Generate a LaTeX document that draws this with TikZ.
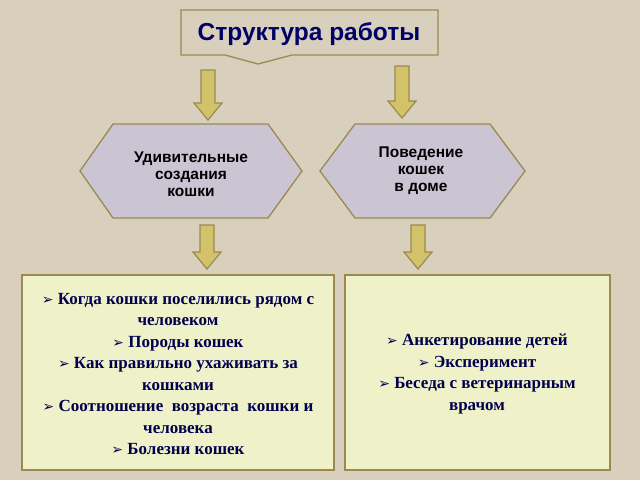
\documentclass[tikz,border=0pt]{standalone}
\usepackage{fontspec}
\setmainfont{Liberation Serif}
\setsansfont{Liberation Sans}
\newfontfamily\djvfont{DejaVu Sans}
\definecolor{bg}{HTML}{D8CFBD}
\definecolor{olv}{HTML}{9A8A50}
\definecolor{arf}{HTML}{D2C36A}
\definecolor{hexf}{HTML}{CBC4D3}
\definecolor{boxf}{HTML}{EFF2C9}
\begin{document}
\begin{tikzpicture}[x=1pt,y=-1pt,
  edge/.style={draw=olv, line width=1.3pt},
  barrow/.style={draw=olv, fill=arf, line width=1.2pt},
  hexa/.style={edge, fill=hexf},
  box/.style={edge, fill=boxf},
  btxt/.style={font=\bfseries\fontsize{17}{21.5}\selectfont, text=blue!30!black, align=center},
  htxt/.style={font=\sffamily\bfseries\fontsize{15.5}{17}\selectfont, align=center}]
\newcommand{\bul}{{\djvfont\fontsize{14}{14}\selectfont ➢}\ }
\newcommand{\blockarrow}[3]{% x, ytop, ybottom
  \draw[barrow] (#1-7,#2) -- (#1+7,#2) -- (#1+7,#3-17) -- (#1+14,#3-17) -- (#1,#3) -- (#1-14,#3-17) -- (#1-7,#3-17) -- cycle;}
\fill[bg] (0,0) rectangle (640,480);
\useasboundingbox (0,0) rectangle (640,480);
% title
\draw[edge, fill=bg] (181,10) -- (438,10) -- (438,55) -- (292,55) -- (258,64) -- (225,55) -- (181,55) -- cycle;
\node[font=\sffamily\bfseries\fontsize{24.5}{28}\selectfont, text=blue!40!black] (title) at (309,34) {Структура работы};
\blockarrow{208}{70}{120}
\blockarrow{402}{66}{118}
\blockarrow{207}{225}{269}
\blockarrow{418}{225}{269}
% hexagons
\draw[hexa] (80,171) -- (113,124) -- (268,124) -- (302,171) -- (268,218) -- (113,218) -- cycle;
\node[htxt] (h1) at (191,174) {Удивительные\\создания\\кошки};
\draw[hexa] (320,171) -- (355,124) -- (490,124) -- (525,171) -- (490,218) -- (355,218) -- cycle;
\node[htxt] (h2) at (421,171) {Поведение\\кошек\\ в доме};
% boxes
\draw[box] (22,275) rectangle (334,470);
\draw[box] (345,275) rectangle (610,470);
\node[btxt] (l) at (178,374) {\bul Когда кошки поселились рядом с\\человеком\\\bul Породы кошек\\\bul Как правильно ухаживать за\\кошками\\\bul Соотношение\ \ возраста\ \ кошки и\\человека\\\bul Болезни кошек};
\node[btxt] (r) at (477,374) {\bul Анкетирование детей\\\bul Эксперимент\\\bul Беседа с ветеринарным\\врачом};
\end{tikzpicture}
\end{document}
